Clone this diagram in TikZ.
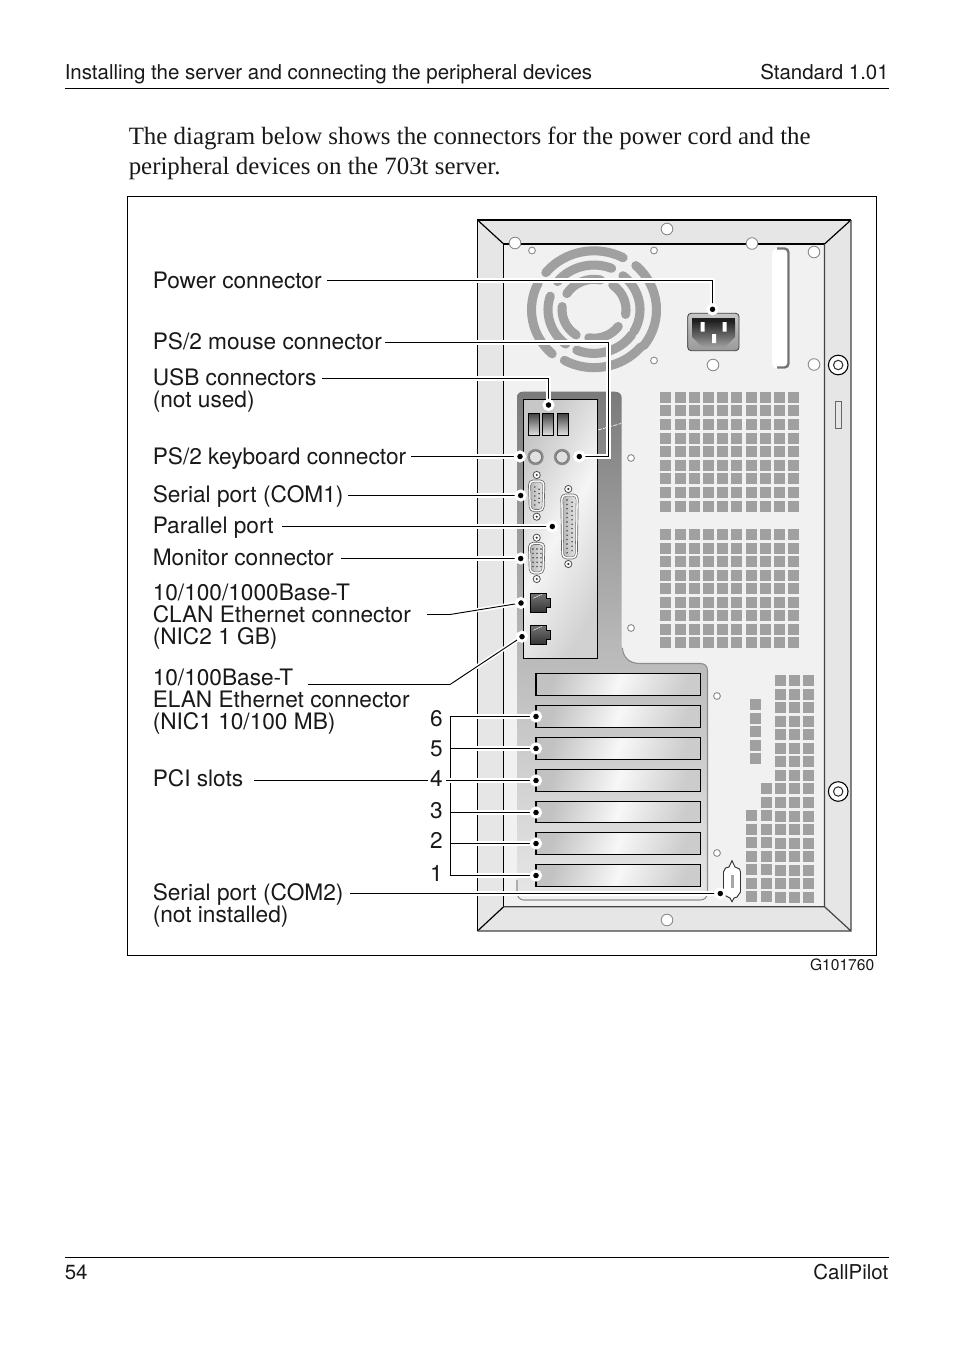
\documentclass[tikz,border=0pt]{standalone}
\usepackage{fontspec}
\setmainfont{Liberation Serif}
\newfontfamily\hv{TeX Gyre Heros}
\pgfdeclarelayer{art}\pgfdeclarelayer{top}\pgfsetlayers{art,main,top}
\definecolor{ventgray}{HTML}{A0A0A0}
\definecolor{framegray}{HTML}{E6E6E6}
\definecolor{panelgray}{HTML}{F1F1F1}
\definecolor{edgegray}{HTML}{444444}
\definecolor{holeedge}{HTML}{8C8C8C}
\tikzset{
 lbl/.style={font=\hv\fontsize{17}{16.5}\selectfont,inner sep=0pt,anchor=base west,align=left,text=black!90},
 pagetxt/.style={font=\hv\fontsize{15.35}{19}\selectfont,inner sep=0pt,anchor=base west,text=black!90},
 bodytxt/.style={font=\fontsize{18.66}{22.5}\selectfont,inner sep=0pt,anchor=base west,text=black!90},
 digit/.style={font=\hv\fontsize{17}{16.5}\selectfont,inner sep=0pt,anchor=base,text=black!90},
 leader/.style={draw=black,line width=.7pt,preaction={draw=white,line width=3.2pt}},
 dotmark/.style={circle,fill=black,draw=white,line width=2.25pt,inner sep=0pt,minimum size=6.75pt},
 bighole/.style={fill=white,draw=holeedge,line width=.7pt},
 slotbox/.style={draw=black,line width=.9pt,left color=black!24,right color=black!20,middle color=black!3,shading angle=70},
 plateart/.style={draw=black,line width=1pt,left color=black!22,right color=black!18,middle color=black!4,shading angle=60},
 fanarc/.style={draw=ventgray,line width=6.8pt,line cap=round},
}
\newcommand\ventgrid[6]{% x y cols rows stepx stepy
 \foreach \ci in {1,...,#3}{\foreach \ri in {1,...,#4}{
  \fill[ventgray] ({#1+(\ci-1)*#5},{#2+(\ri-1)*#6}) rectangle +(11,11);}}}
\newcommand\fanseg[3]{\draw[fanarc] ([shift={(#1:#3 and {.95*#3})}]594,309.7) arc[start angle=#1,end angle=#2,x radius=#3,y radius={.95*#3}];}
\newcommand\screw[2]{\draw[fill=white,draw=black!70,line width=.6pt] (#1,#2) circle[radius=3.6];\fill[black!80] (#1,#2) circle[radius=1.2];}
\newcommand\dshell[4]{% x1 y1 x2 y2
 \draw[fill=white,draw=black!60,line width=.5pt,rounded corners=3.5pt] (#1,#2) -- (#3,#2) -- ({#3-1},#4) -- ({#1+1},#4) -- cycle;
 \shade[left color=black!28,right color=black!10,rounded corners=2.5pt,draw=black!55,line width=.4pt] ({#1+2.2},{#2+2.2}) -- ({#3-2.2},{#2+2.2}) -- ({#3-3},{#4-2.2}) -- ({#1+3},{#4-2.2}) -- cycle;}
\newcommand\rjack[2]{\shade[top color=black!55,bottom color=black!80,draw=black,line width=.5pt] (#1,#2) -- ({#1+16},#2) -- ({#1+16},{#2+5}) -- ({#1+20},{#2+5}) -- ({#1+20},{#2+14}) -- ({#1+16},{#2+14}) -- ({#1+16},{#2+19.5}) -- (#1,{#2+19.5}) -- cycle;
 \draw[white,line width=.3pt] ({#1+3},{#2+5}) -- ({#1+12},{#2+1});}
\begin{document}
\begin{tikzpicture}[x=.75pt,y=-.75pt]
\useasboundingbox (0,0) rectangle (954,1352);
\begin{pgfonlayer}{art}
\fill[white] (0,0) rectangle (954,1352);
% tower
\fill[framegray] (477.5,220) rectangle (851,931);
\fill[panelgray] (503.7,244) rectangle (824.5,906.7);
\draw[black,line width=.9pt] (477.5,931) -- (477.5,220) -- (851,220) (503.7,906.7) -- (503.7,244) -- (824.5,244);
\draw[black,line width=.9pt] (477.5,220) -- (503.7,244) (851,220) -- (824.5,244) (477.5,931) -- (503.7,906.7);
\draw[edgegray,line width=.9pt] (851,220) -- (851,931) -- (477.5,931) (824.5,244) -- (824.5,906.7) -- (503.7,906.7) (851,931) -- (824.5,906.7);
% fan
\fanseg{-141}{-62}{62}\fanseg{-48}{37}{62.5}\fanseg{40}{119}{61}\fanseg{132}{207}{62.5}
\fanseg{219}{292}{47}\fanseg{-51}{30}{46}\fanseg{35}{112}{46}\fanseg{128}{198}{46}
\fanseg{212}{282}{32}\fanseg{-54}{9}{32}\fanseg{36}{100}{30}\fanseg{124}{186}{32}
% holes
\foreach \hx/\hy in {667/229,515/243,752/243.5,814/252,713/365,814/364.5,667/920}{\draw[bighole] (\hx,\hy) circle[radius=5.8];}
\foreach \hx/\hy in {532/250.5,654/250.5,654/360.5,631/458,631/628,717/696,717/853}{\draw[bighole] (\hx,\hy) circle[radius=3.4];}
% long slot
\fill[white,rounded corners=4pt] (772,248) rectangle (790,369);
\draw[black!55,line width=1.8pt,rounded corners=3pt] (777,248.5) -- (788.5,248.5) -- (788.5,367.5) -- (777,367.5);
% power inlet
\shade[top color=black!22,bottom color=black!40,draw=black!75,line width=.6pt,rounded corners=2.5pt] (687.7,313.3) rectangle (739,350.7);
\fill[black!88] (692,317.5) rectangle (735,328);
\shade[top color=black!85,bottom color=black!38] (692,322) -- (735,322) -- (735,337) -- (725,347) -- (702,347) -- (692,337) -- cycle;
\fill[white] (700.5,322) rectangle (704.5,331.5) (722.5,322) rectangle (726.5,331.5) (712,334) rectangle (716,343);
% vents
\ventgrid{660.3}{391.7}{10}{9}{14.2}{13.6}
\ventgrid{660.3}{529}{10}{9}{14.2}{13.5}
\ventgrid{775}{675}{3}{17}{14}{13.55}
\ventgrid{761}{783}{1}{9}{14}{13.55}
\ventgrid{746}{810}{1}{7}{15}{13.55}
\ventgrid{750}{699}{1}{5}{14}{13.6}
% right-hand details
\foreach \cy in {365,791.5}{\draw[black,line width=.8pt,fill=white] (838.2,\cy) circle[radius=9.8];\draw[black!80,line width=.8pt] (838.2,\cy) circle[radius=4.7];}
\draw[black!60,line width=.6pt] (835,401) rectangle (841.5,428);
% back panel area
\shade[top color=black!52,bottom color=black!10,middle color=black!28] (517,891) -- (517,398) .. controls (517,394) and (519,391.7) .. (523,391.7) -- (615,391.7) .. controls (619,391.7) and (621.7,394) .. (621.7,398) -- (621.7,646) .. controls (622,656) and (628,663.5) .. (640,663.5) -- (700,663.5) .. controls (705,663.5) and (707.5,666) .. (707.5,671) -- (707.5,891) -- cycle;
\draw[black!45,line width=.8pt] (622.4,648) .. controls (623,656) and (628,663.5) .. (640,663.5) -- (700,663.5) .. controls (705,663.5) and (707.5,666) .. (707.5,671) -- (707.5,892) .. controls (707.5,897) and (705,900) .. (700,900) -- (524,900) .. controls (520,900) and (517,897) .. (517,892) -- (517,880);
\draw[white,line width=.5pt,dash pattern=on 3pt off 1pt] (598,430) -- (621,423.5);
% IO plate
\shade[plateart] (523.5,399.7) rectangle (597.7,658.3);
\foreach \ux in {528.5,542.3,557}{\shade[top color=black!75,bottom color=black!12,draw=black,line width=.6pt] (\ux,413) rectangle +(11,22);}
\foreach \px in {535.5,562}{\fill[black!45] (\px,457) circle[radius=8.2];\draw[fill=black!12,draw=black!60,line width=.5pt] (\px,457) circle[radius=6];}
% COM1, parallel, VGA
\screw{536.7}{475}\screw{536.7}{516.7}
\dshell{528.3}{480}{545}{511.7}
\foreach \py in {487,491.5,496,500.5,505}{\fill[black!80] (534.8,\py) circle[radius=.8];}
\foreach \py in {489.2,493.7,498.2,502.7}{\fill[black!80] (539,\py) circle[radius=.8];}
\screw{568.3}{489}\screw{568.3}{564}
\dshell{560.7}{494}{578.3}{559}
\foreach \ii in {0,...,12}{\fill[black!80] (567,{500+\ii*4.4}) circle[radius=.8];}
\foreach \ii in {0,...,11}{\fill[black!80] (572,{502.2+\ii*4.4}) circle[radius=.8];}
\screw{536.7}{537.7}\screw{536.7}{579}
\dshell{528.3}{542.3}{545}{574}
\foreach \cx in {533,537,541}{\foreach \ii in {0,...,4}{\fill[black!80] (\cx,{549+\ii*4.4}) circle[radius=.8];}}
\rjack{530}{593.3}\rjack{530}{625.3}
% PCI slots
\foreach \sa/\sb in {673.3/695.3,705.3/727.3,737.3/759.3,769.3/791.3,801.3/822.3,832.3/854.3,864.3/886.3}{\shade[slotbox] (536,\sa) rectangle (700.7,\sb);}
% COM2
\draw[fill=white,draw=black!80,line width=.7pt] (732,860.7) -- (735,867) -- (739.5,869) -- (740.5,872) -- (740.5,892) -- (737,897) -- (734,898) -- (732,901.7) -- (730,898) -- (726,896) -- (723.5,892) -- (723.5,872) -- (725.5,868) -- (729,867) -- cycle;
\fill[black!35] (730.7,875) rectangle (734,888);
\end{pgfonlayer}
% page text
\node[pagetxt] (hdrl) at (64.5,79.5) {Installing the server and connecting the peripheral devices};
\node[pagetxt,anchor=base east] (hdrr) at (889,79.5) {Standard 1.01};
\node[pagetxt] (ftrl) at (64.5,1279.5) {54};
\node[pagetxt,anchor=base east] (ftrr) at (888.5,1279.5) {CallPilot};
\draw[black,line width=.7pt] (65,88.5) -- (888.5,88.5) (65,1257.5) -- (888.5,1257.5);
\node[bodytxt] (body1) at (128.5,144.5) {The diagram below shows the connectors for the power cord and the};
\node[bodytxt] (body2) at (128.5,174.5) {peripheral devices on the 703t server.};
\draw[black,line width=.8pt] (127.5,196.5) rectangle (876.5,955.5);
\node[font=\hv\fontsize{11.7}{12}\selectfont,inner sep=0pt,anchor=base east,text=black!90] (gnum) at (874.5,970) {G101760};
% labels
\node[lbl] (lpower) at (152.5,288) {Power connector};
\node[lbl] (lmouse) at (152.5,349) {PS/2 mouse connector};
\node[lbl] (lusb) at (152.5,407) {USB connectors\\(not used)};
\node[lbl] (lkbd) at (152.5,464) {PS/2 keyboard connector};
\node[lbl] (lcom1) at (152.5,502) {Serial port (COM1)};
\node[lbl] (lpar) at (152.5,533) {Parallel port};
\node[lbl] (lmon) at (152.5,565) {Monitor connector};
\node[lbl] (lclan) at (152.5,644) {10/100/1000Base-T\\CLAN Ethernet connector\\(NIC2 1 GB)};
\node[lbl] (lelan) at (152.5,729) {10/100Base-T\\ELAN Ethernet connector\\(NIC1 10/100 MB)};
\node[lbl] (lpci) at (152.5,786.5) {PCI slots};
\node[lbl] (lcom2) at (152.5,922) {Serial port (COM2)\\(not installed)};
\foreach \dn/\dy in {6/726.5,5/756.5,4/786.5,3/818.5,2/848.5,1/881.5}{\node[digit] (n\dn) at (436.5,\dy) {\dn};}
% markers
\begin{pgfonlayer}{top}
\node[dotmark] (dpower) at (712.5,309.3) {};
\node[dotmark] (dusb) at (548.5,405) {};
\node[dotmark] (dmouse) at (579.3,456.5) {};
\node[dotmark] (dkbd) at (520,456.5) {};
\node[dotmark] (dcom1) at (520.7,495.5) {};
\node[dotmark] (dpar) at (552.3,526.5) {};
\node[dotmark] (dmon) at (520.7,558.5) {};
\node[dotmark] (dclan) at (521,603) {};
\node[dotmark] (delan) at (522,636.7) {};
\node[dotmark] (p6) at (536,716.5) {};
\node[dotmark] (p5) at (536,748.5) {};
\node[dotmark] (p4) at (536,780.5) {};
\node[dotmark] (p3) at (536,812.5) {};
\node[dotmark] (p2) at (536,843.5) {};
\node[dotmark] (p1) at (536,875.5) {};
\node[dotmark] (dcom2) at (720.3,893.5) {};
\end{pgfonlayer}
% free ends
\coordinate (spower) at (327,280.5);
\coordinate (kpower) at (712.5,280.5);
\coordinate (smouse) at (385,342.5);
\coordinate (kmouse) at (608.5,342.5);
\coordinate (susb) at (322,378.5);
\coordinate (skbd) at (411,456.5);
\coordinate (scom1) at (348,495.5);
\coordinate (spar) at (282,526.5);
\coordinate (smon) at (341,558.5);
\coordinate (sclan) at (427,614.5);
\coordinate (kclan) at (450,614.5);
\coordinate (selan) at (308,684.5);
\coordinate (kelan) at (450,684.5);
\coordinate (spci) at (254,780.5);
\coordinate (epci) at (428,780.5);
\coordinate (sfour) at (446,780.5);
\coordinate (brka) at (450.5,716.5);
\coordinate (brkb) at (450.5,875.5);
\coordinate (scom2) at (350,893.5);
% leaders
\draw[leader] (spower) -- (kpower) -- (dpower.center);
\draw[leader] (smouse) -- (kmouse) |- (dmouse.center);
\draw[leader] (susb) -| (dusb.center);
\draw[leader] (skbd) -- (dkbd.center);
\draw[leader] (scom1) -- (dcom1.center);
\draw[leader] (spar) -- (dpar.center);
\draw[leader] (smon) -- (dmon.center);
\draw[leader] (sclan) -- (kclan) -- (dclan.center);
\draw[leader] (selan) -- (kelan) -- (delan.center);
\draw[leader] (spci) -- (epci);
\draw[leader] (p6.center) -- (brka) -- (brkb) -- (p1.center);
\draw[leader] (sfour) -- (p4.center);
\draw[leader] (p5.center) -- (p5.center -| brka);
\draw[leader] (p3.center) -- (p3.center -| brka);
\draw[leader] (p2.center) -- (p2.center -| brka);
\draw[leader] (scom2) -- (dcom2.center);
\end{tikzpicture}
\end{document}
